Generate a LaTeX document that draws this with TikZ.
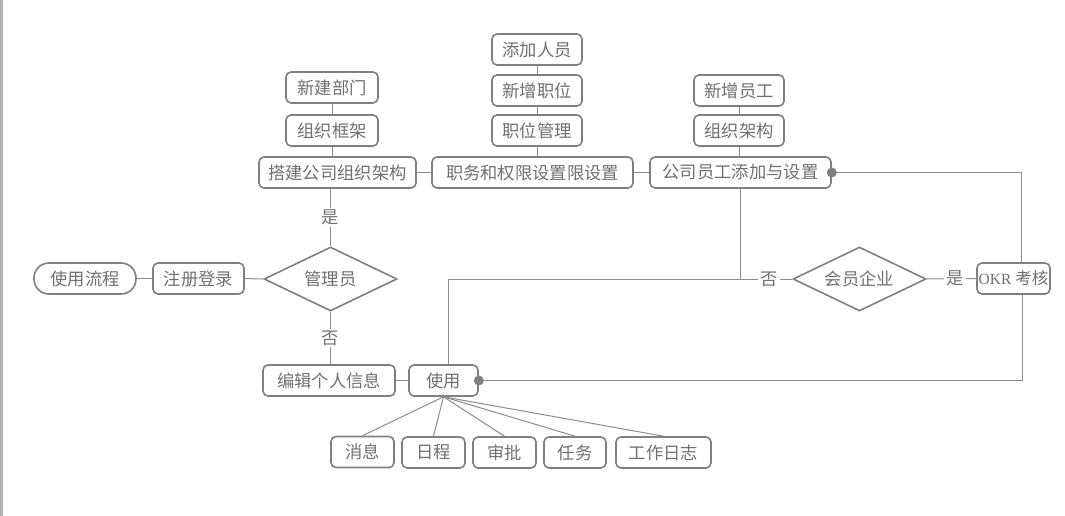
\documentclass[tikz,border=0pt]{standalone}
\usepackage{fontspec}
\setmainfont{Noto Sans CJK SC}
\newfontfamily\latinnarrow{Liberation Serif}
\usetikzlibrary{shapes.geometric}
\definecolor{bord}{HTML}{808080}
\definecolor{txt}{HTML}{707070}
\definecolor{ln}{HTML}{8C8C8C}
\begin{document}
\begin{tikzpicture}[x=1pt,y=-1pt,
 box/.style={draw=bord, line width=1.6pt, rounded corners=5pt, fill=white, text=txt, minimum height=31pt, inner sep=0pt, font=\fontsize{17.3}{19}\selectfont},
 dia/.style={draw=bord, line width=1.6pt, diamond, aspect=2, minimum width=133pt, minimum height=64pt, inner sep=0pt, fill=white, text=txt, font=\fontsize{17.3}{19}\selectfont},
 conn/.style={draw=ln, line width=1pt},
 lab/.style={fill=white, text=txt, inner sep=2pt, font=\fontsize{17.3}{19}\selectfont},
 dotc/.style={circle, fill=bord, minimum size=10pt, inner sep=0pt}
]
\useasboundingbox (0,0) rectangle (1065,516);
\fill[white] (0,0) rectangle (1065,516);
\fill[black!30] (0,0) rectangle (2.5,516);

\node[box, minimum width=92pt] (xjbm) at (332,87.5) {新建部门};
\node[box, minimum width=92pt] (zzkj) at (332,130.5) {组织框架};
\node[box, minimum width=157pt] (djgs) at (337.5,172.5) {搭建公司组织架构};
\node[dia] (gly) at (330.5,279) {管理员};
\node[box, minimum width=132pt] (bj) at (329,380.5) {编辑个人信息};
\node[box, minimum width=69pt] (sy) at (443.5,380.5) {使用};
\node[box, rounded corners=15pt, minimum width=102pt] (sylc) at (85,278.5) {使用流程};
\node[box, minimum width=91pt] (zc) at (198.5,278.5) {注册登录};
\node[box, minimum width=201pt] (zw) at (532.5,172.5) {职务和权限设置限设置};
\node[box, minimum width=90pt] (tjry) at (537,49.5) {添加人员};
\node[box, minimum width=90pt] (xzzw) at (537,90.5) {新增职位};
\node[box, minimum width=90pt] (zwgl) at (537,130.5) {职位管理};
\node[box, minimum width=181pt] (gsyg) at (740.5,172.5) {公司员工添加与设置};
\node[box, minimum width=90pt] (xzyg) at (739,90.5) {新增员工};
\node[box, minimum width=90pt] (zzjg) at (739,130.5) {组织架构};
\node[dia] (hyqy) at (859.5,279) {会员企业};
\node[box, minimum width=73pt] (okr) at (1013.5,278.5) {{\latinnarrow\fontsize{15.5}{18}\selectfont OKR} {\fontsize{16.5}{18}\selectfont 考核}};

\node[box, minimum width=63pt] (xx) at (362.5,452) {消息};
\node[box, minimum width=63pt] (rc) at (433.5,452.5) {日程};
\node[box, minimum width=63pt] (sp) at (504.5,452.5) {审批};
\node[box, minimum width=62pt] (rw) at (575,452.5) {任务};
\node[box, minimum width=95pt] (gzrz) at (663.5,452.5) {工作日志};

% connectors
\draw[conn] (xjbm) -- (zzkj);
\draw[conn] (zzkj.south) -- (zzkj.south|-djgs.north);
\draw[conn] (gly.north) -- (gly.north|-djgs.south) node[lab, midway] {是};
\draw[conn] (gly.south) -- (gly.south|-bj.north) node[lab, midway] {否};
\draw[conn] (sylc) -- (zc);
\draw[conn] (zc.east) -- (gly.west);
\draw[conn] (bj.east) -- (sy.west);
\draw[conn] (djgs.east) -- (zw.west);
\draw[conn] (zw.east) -- (gsyg.west);
\draw[conn] (tjry) -- (xzzw);
\draw[conn] (xzzw) -- (zwgl);
\draw[conn] (zwgl.south) -- (zwgl.south|-zw.north);
\draw[conn] (xzyg) -- (zzjg);
\draw[conn] (zzjg.south) -- (zzjg.south|-gsyg.north);
\draw[conn] (gsyg.south) -- (gsyg.south|-hyqy.west);
\draw[conn] ([xshift=4.5pt]sy.north) |- (hyqy.west);
\node[lab] (fou2) at (769,279) {否};
\draw[conn] (hyqy.east) -- (okr.west) node[lab, pos=0.57] {是};
\draw[conn] (gsyg.east) -| ([xshift=8pt]okr.north);
\draw[conn] ([xshift=8.5pt]okr.south) |- (sy.east);
\node[dotc] (d1) at (gsyg.east) {};
\node[dotc] (d2) at (sy.east) {};

\foreach \c in {xx,rc,sp,rw,gzrz} {
  \draw[conn] (sy.south) -- (\c.north);
}
\end{tikzpicture}
\end{document}
